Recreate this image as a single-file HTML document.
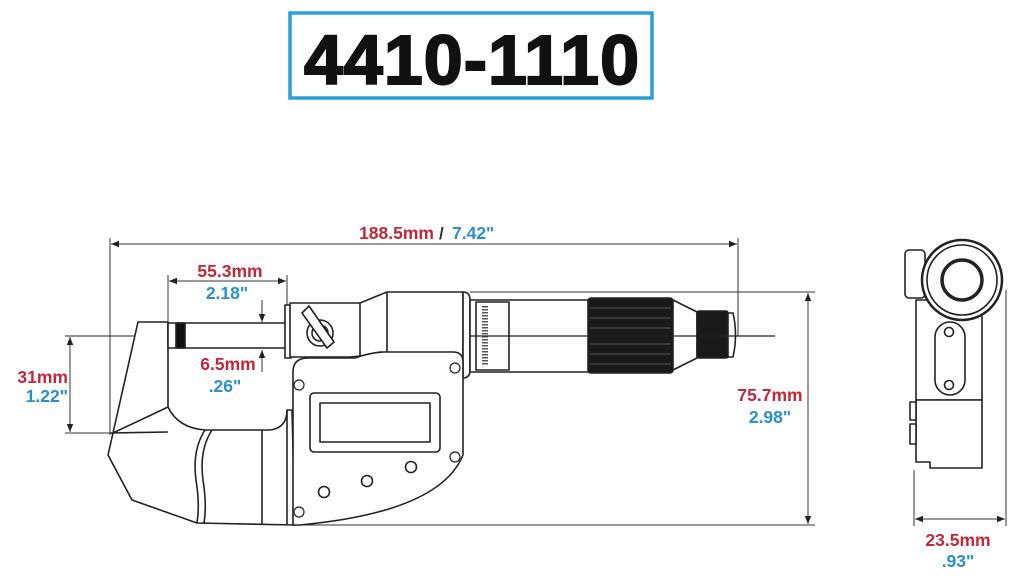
<!DOCTYPE html>
<html><head><meta charset="utf-8"><style>
html,body{margin:0;padding:0;background:#fff;width:1024px;height:580px;overflow:hidden}
svg{display:block}
.r{fill:#c0283a;font:bold 17.5px "Liberation Sans",sans-serif}
.b{fill:#2a90c8;font:bold 17.5px "Liberation Sans",sans-serif}
</style></head><body>
<svg width="1024" height="580" viewBox="0 0 1024 580" xmlns="http://www.w3.org/2000/svg">
<defs>
<marker id="a" viewBox="0 0 10 10" refX="10" refY="5" markerWidth="8" markerHeight="8" orient="auto-start-reverse"><path d="M0,1 L10,5 L0,9 Z" fill="#222"/></marker>
</defs>
<rect x="290" y="13" width="362" height="85" fill="none" stroke="#2a9fd6" stroke-width="3.5"/>
<text x="472" y="84" text-anchor="middle" style="font:bold 70px 'Liberation Sans',sans-serif;letter-spacing:1px" fill="#111" stroke="#111" stroke-width="2">4410-1110</text>

<g stroke="#333" stroke-width="1" fill="none">
<line x1="110" y1="238" x2="110" y2="435"/>
<line x1="738" y1="238" x2="738" y2="336"/>
<line x1="168" y1="275" x2="168" y2="322"/>
<line x1="287" y1="275" x2="287" y2="305"/>
<line x1="65" y1="433" x2="135" y2="433"/>
<line x1="470" y1="292" x2="815" y2="292"/>
<line x1="290" y1="525" x2="815" y2="525"/>
<line x1="914" y1="470" x2="914" y2="526"/>
<line x1="1006" y1="290" x2="1006" y2="526"/>
<line x1="65" y1="336" x2="775" y2="336" stroke="#222"/>
<line x1="111" y1="244" x2="737" y2="244" marker-start="url(#a)" marker-end="url(#a)"/>
<line x1="169" y1="281" x2="286" y2="281" marker-start="url(#a)" marker-end="url(#a)"/>
<line x1="70" y1="337" x2="70" y2="432" marker-start="url(#a)" marker-end="url(#a)"/>
<line x1="808" y1="293" x2="808" y2="524" marker-start="url(#a)" marker-end="url(#a)"/>
<line x1="915" y1="519" x2="1005" y2="519" marker-start="url(#a)" marker-end="url(#a)"/>
<line x1="262" y1="300" x2="262" y2="322" marker-end="url(#a)"/>
<line x1="262" y1="372" x2="262" y2="350" marker-end="url(#a)"/>
</g>

<text x="434" y="239" class="r" text-anchor="end">188.5mm</text>
<text x="439" y="239" style="font:bold 17px 'Liberation Sans',sans-serif" fill="#333">/</text>
<text x="452" y="239" class="b">7.42"</text>
<text x="230" y="277" class="r" text-anchor="middle">55.3mm</text>
<text x="227" y="299" class="b" text-anchor="middle">2.18"</text>
<text x="228" y="370" class="r" text-anchor="middle">6.5mm</text>
<text x="225" y="392" class="b" text-anchor="middle">.26"</text>
<text x="68" y="383" class="r" text-anchor="end">31mm</text>
<text x="68" y="402" class="b" text-anchor="end">1.22"</text>
<text x="770" y="401" class="r" text-anchor="middle">75.7mm</text>
<text x="770" y="423" class="b" text-anchor="middle">2.98"</text>
<text x="958" y="546" class="r" text-anchor="middle">23.5mm</text>
<text x="958" y="567" class="b" text-anchor="middle">.93"</text>

<g stroke="#222" stroke-width="1.6" fill="#fff" stroke-linejoin="round">
<path d="M138,322 L168,322 L168,407 Q178,428 205,430 L270,430 Q287,428 287,410 L292,410 L295,525 L197,523 L132,500 L108,455 L113,433 Z"/>
<path d="M113,433 L168,407 M110,433 L168,432" fill="none"/>
<path d="M205,430 Q192,450 196,480 Q200,505 197,523" fill="none"/>
<path d="M212,430 Q199,450 203,480 Q207,505 204,523" fill="none"/>
<line x1="262" y1="430" x2="262" y2="524"/>
<line x1="287" y1="410" x2="287" y2="524"/>
<rect x="168" y="323" width="119" height="25"/>
<rect x="176" y="323" width="9" height="25" fill="#111"/>
<rect x="285" y="305" width="6" height="53"/>
<path d="M290,303 L360,303 L387,292 L463,292 L463,360 L380,352 Q365,356 350,357 L290,357 Z"/>
<line x1="387" y1="292" x2="387" y2="352"/>
<line x1="360" y1="303" x2="360" y2="357"/>
<path d="M463,292 Q470,292 470,300 L470,370 Q470,378 463,378 Z"/>
<circle cx="320" cy="333" r="13"/>
<circle cx="320" cy="333" r="8"/>
<path d="M302,313 L309,306 L334,342 L327,348 Z"/>
<path d="M293,372 Q293,358 308,358 L355,358 Q372,352 385,352 L453,352 Q463,352 463,362 L463,455 Q440,512 300,525 L293,525 Z"/>
<rect x="310" y="393" width="130" height="59" rx="4"/>
<rect x="320" y="403" width="110" height="39"/>
<circle cx="324" cy="492" r="5.5"/><circle cx="367" cy="481" r="5.5"/><circle cx="411" cy="467" r="5.5"/>
<g stroke-width="1.2"><circle cx="299" cy="385" r="5"/><circle cx="455" cy="368" r="5"/><circle cx="455" cy="457" r="5"/><circle cx="299" cy="512" r="5"/></g>
<rect x="470" y="300" width="120" height="72"/>
<rect x="476" y="302" width="33" height="68"/>
<path d="M485,306 L485,366" stroke="#555" stroke-width="6" fill="none" stroke-dasharray="1.5,1.5"/>
<rect x="588" y="298" width="85" height="75" rx="3" fill="#1a1a1a"/>
<g stroke="#666" stroke-width="0.8"><line x1="590" y1="308" x2="671" y2="308"/><line x1="590" y1="318" x2="671" y2="318"/><line x1="590" y1="328" x2="671" y2="328"/><line x1="590" y1="344" x2="671" y2="344"/><line x1="590" y1="354" x2="671" y2="354"/><line x1="590" y1="364" x2="671" y2="364"/></g>
<path d="M673,300 L697,312 L697,358 L673,370 Z"/>
<rect x="697" y="311" width="31" height="47" rx="2" fill="#1a1a1a"/>
<path d="M728,313 L733,313 Q738,335 733,357 L728,357 Z"/>
<line x1="470" y1="336" x2="775" y2="336" stroke-width="1.2"/>

<rect x="905" y="250" width="20" height="48" rx="4"/>
<rect x="916" y="300" width="66" height="100"/>
<path d="M916,400 L982,400 L982,468 L930,468 L930,462 L916,462 Z"/>
<rect x="910" y="402" width="6" height="18"/><rect x="910" y="424" width="6" height="20"/>
<circle cx="962" cy="280" r="40" stroke-width="2.5"/>
<circle cx="962" cy="280" r="35"/>
<circle cx="962" cy="280" r="20" stroke-width="3.5"/>
<rect x="935" y="322" width="30" height="73" rx="15"/>
<circle cx="949" cy="332" r="4.5"/><circle cx="949" cy="385" r="4.5"/>
</g>
</svg>
</body></html>
